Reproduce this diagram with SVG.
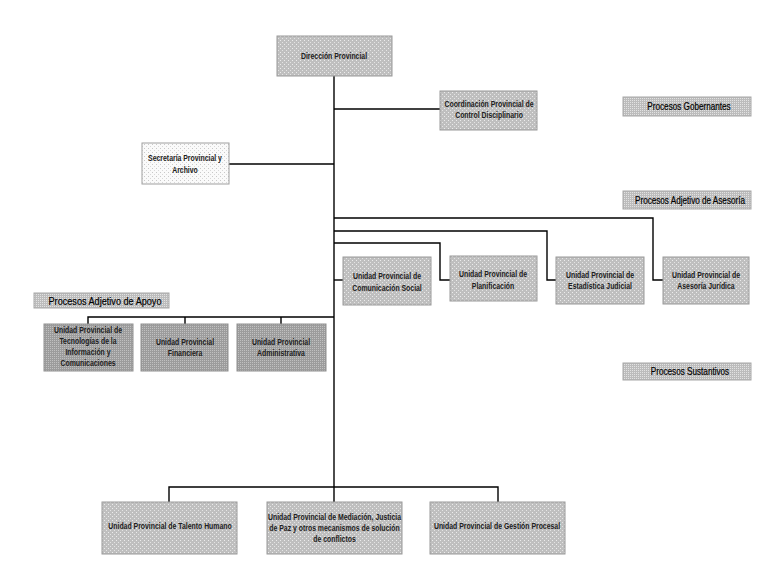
<svg xmlns="http://www.w3.org/2000/svg" width="765" height="567" viewBox="0 0 765 567">
<defs>
<pattern id="pm" width="4" height="4" patternUnits="userSpaceOnUse"><rect width="4" height="4" fill="#bfbfbf"/><rect x="0" y="0" width="1" height="1" fill="#ececec"/><rect x="2" y="2" width="1" height="1" fill="#e4e4e4"/></pattern>
<pattern id="pd" width="2" height="2" patternUnits="userSpaceOnUse"><rect width="2" height="2" fill="#9c9c9c"/><rect x="0" y="0" width="1" height="1" fill="#c0c0c0"/></pattern>
<pattern id="pl" width="4" height="4" patternUnits="userSpaceOnUse"><rect width="4" height="4" fill="#fafafa"/><rect x="0" y="0" width="1" height="1" fill="#c8c8c8"/><rect x="2" y="2" width="1" height="1" fill="#d8d8d8"/></pattern>
<pattern id="pc" width="2" height="2" patternUnits="userSpaceOnUse"><rect width="2" height="2" fill="#bcbcbc"/><rect x="0" y="0" width="1" height="1" fill="#e2e2e2"/></pattern>
</defs>
<style>
.m{fill:url(#pm);stroke:#9a9a9a;stroke-width:1}
.d{fill:url(#pd);stroke:#909090;stroke-width:1}
.l{fill:url(#pl);stroke:#a0a0a0;stroke-width:1}
.c{fill:url(#pc);stroke:#a8a8a8;stroke-width:1}
.t{font-family:"Liberation Sans",Arial,sans-serif;font-size:8.4px;font-weight:bold;fill:#202020;text-anchor:middle}
.p{font-family:"Liberation Sans",Arial,sans-serif;font-size:10.2px;fill:#000;stroke:#000;stroke-width:0.2;text-anchor:middle}
.k{fill:none;stroke:#000;stroke-width:1.4}
</style>
<rect width="765" height="567" fill="#fff"/>
<g id="connectors">
<path class="k" d="M334,76V487"/>
<path class="k" d="M334,109H440"/>
<path class="k" d="M229,164H334"/>
<path class="k" d="M334,218H653V280H663"/>
<path class="k" d="M334,231H547V280H556"/>
<path class="k" d="M334,243H440V280H450"/>
<path class="k" d="M334,280H343"/>
<path class="k" d="M334,317H88V324M185,317V324M281,317V324"/>
<path class="k" d="M169,502V487H498V502M334,487V502"/>
</g>
<g id="n-direccion"><rect class="m" x="277" y="36" width="115" height="40"/><text class="t" transform="translate(334,59) scale(0.82,1)">Dirección Provincial</text></g>
<g id="n-coordinacion"><rect class="m" x="440" y="91" width="97" height="39"/><text class="t" transform="translate(489,107) scale(0.82,1)"><tspan x="0" y="0">Coordinación Provincial de</tspan><tspan x="0" y="11.5">Control Disciplinario</tspan></text></g>
<g id="n-secretaria"><rect class="l" x="142" y="143" width="87" height="41"/><text class="t" transform="translate(185,161) scale(0.82,1)"><tspan x="0" y="0">Secretaría Provincial y</tspan><tspan x="0" y="12">Archivo</tspan></text></g>
<g id="n-gobernantes"><rect class="c" x="623" y="97" width="128" height="19"/><text class="p" transform="translate(689,110) scale(0.8,1)">Procesos Gobernantes</text></g>
<g id="n-asesoria-label"><rect class="c" x="623" y="191" width="128" height="18"/><text class="p" transform="translate(690,204) scale(0.8,1)">Procesos Adjetivo de Asesoría</text></g>
<g id="n-comunicacion"><rect class="m" x="343" y="257" width="88" height="48"/><text class="t" transform="translate(387,279) scale(0.82,1)"><tspan x="0" y="0">Unidad Provincial de</tspan><tspan x="0" y="12">Comunicación Social</tspan></text></g>
<g id="n-planificacion"><rect class="m" x="450" y="256" width="87" height="45"/><text class="t" transform="translate(493,277) scale(0.82,1)"><tspan x="0" y="0">Unidad Provincial de</tspan><tspan x="0" y="12">Planificación</tspan></text></g>
<g id="n-estadistica"><rect class="m" x="556" y="257" width="88" height="47"/><text class="t" transform="translate(600,278) scale(0.82,1)"><tspan x="0" y="0">Unidad Provincial de</tspan><tspan x="0" y="11">Estadística Judicial</tspan></text></g>
<g id="n-juridica"><rect class="m" x="663" y="257" width="86" height="47"/><text class="t" transform="translate(706,278) scale(0.82,1)"><tspan x="0" y="0">Unidad Provincial de</tspan><tspan x="0" y="11">Asesoría Jurídica</tspan></text></g>
<g id="n-apoyo-label"><rect class="c" x="34" y="293" width="135" height="15"/><text class="p" style="font-size:11.4px" transform="translate(105,304.5) scale(0.8,1)">Procesos Adjetivo de Apoyo</text></g>
<g id="n-tecnologias"><rect class="d" x="44" y="324" width="89" height="47"/><text class="t" transform="translate(88,333) scale(0.82,1)"><tspan x="0" y="0">Unidad Provincial de</tspan><tspan x="0" y="11">Tecnologías de la</tspan><tspan x="0" y="22">Información y</tspan><tspan x="0" y="33">Comunicaciones</tspan></text></g>
<g id="n-financiera"><rect class="d" x="141" y="324" width="87" height="47"/><text class="t" transform="translate(185,345) scale(0.82,1)"><tspan x="0" y="0">Unidad Provincial</tspan><tspan x="0" y="11.5">Financiera</tspan></text></g>
<g id="n-administrativa"><rect class="d" x="237" y="324" width="89" height="47"/><text class="t" transform="translate(281,345) scale(0.82,1)"><tspan x="0" y="0">Unidad Provincial</tspan><tspan x="0" y="11.5">Administrativa</tspan></text></g>
<g id="n-sustantivos"><rect class="c" x="623" y="363" width="128" height="17"/><text class="p" transform="translate(690,375) scale(0.8,1)">Procesos Sustantivos</text></g>
<g id="n-talento"><rect class="m" x="102" y="502" width="135" height="52"/><text class="t" transform="translate(170,529) scale(0.82,1)">Unidad Provincial de Talento Humano</text></g>
<g id="n-mediacion"><rect class="m" x="267" y="502" width="135" height="52"/><text class="t" transform="translate(334.5,520) scale(0.82,1)"><tspan x="0" y="0">Unidad Provincial de Mediación, Justicia</tspan><tspan x="0" y="11">de Paz y otros mecanismos de solución</tspan><tspan x="0" y="22">de conflictos</tspan></text></g>
<g id="n-gestion"><rect class="m" x="430" y="502" width="135" height="52"/><text class="t" transform="translate(497,529) scale(0.82,1)">Unidad Provincial de Gestión Procesal</text></g>
</svg>
